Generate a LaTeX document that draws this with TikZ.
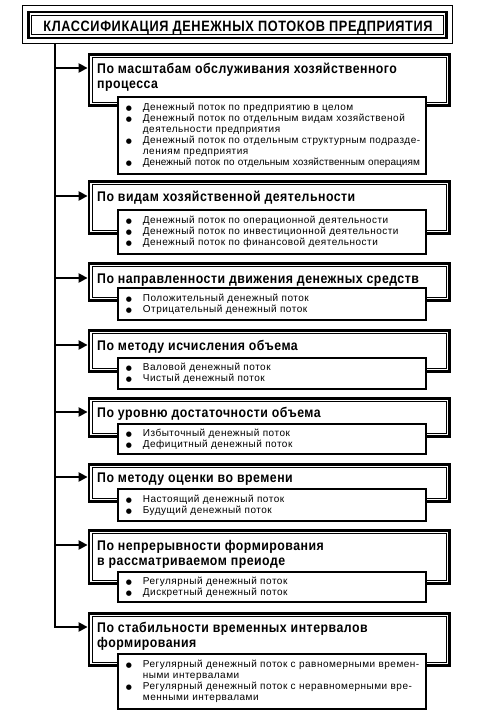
\documentclass[tikz,border=0pt]{standalone}
\usepackage{fontspec}
\setmainfont{Liberation Sans}
\newfontfamily\ttlfont{Liberation Sans}[FakeStretch=0.85,LetterSpace=4]
\newfontfamily\hdrfont{Liberation Sans}[FakeStretch=0.88,LetterSpace=3.5]
\newfontfamily\itmfont{Liberation Sans}[LetterSpace=5]
\newfontfamily\itmtight{Liberation Sans}[LetterSpace=0.5]
\newfontfamily\symfont{DejaVu Sans}
\usetikzlibrary{arrows.meta}
\newlength\itmw \setlength\itmw{275pt}
\newcommand\bulsym{{\symfont\fontsize{7}{7}\selectfont ●}}
\newcommand\itmA[1]{\noindent\makebox[17pt][l]{\bulsym}\hbox to \itmw{#1\hfil}\par}
\newcommand\itmJ[1]{\noindent\makebox[17pt][l]{\bulsym}\hbox to \itmw{#1}\par}
\newcommand\itmC[1]{\noindent\hspace*{17pt}\hbox to \itmw{#1\hfil}\par}
\tikzset{
  trunk/.style={line width=2.2pt,line cap=rect},
  arr/.style={line width=2.2pt,-{Triangle[length=9pt,width=9pt]}},
  catbox/.style={draw,line width=2.8pt,fill=white,anchor=north west,inner sep=0pt,minimum width=360.6pt},
  inframe/.style={line width=0.9pt},
  subbox/.style={draw,line width=1.8pt,fill=white,anchor=north west,text width=292pt,
    inner xsep=8pt,inner ysep=0pt,align=left,font=\itmfont\fontsize{10}{11}\selectfont},
  hdr/.style={anchor=base west,inner sep=0pt,align=left,font=\hdrfont\bfseries\fontsize{14}{15}\selectfont},
}
% #1 id, #2 top, #3 bottom, #4 arrow y, #5 header, #6 sub top, #7 sub bottom, #8 items, #9 extra header lines
\newcommand\mkcat[9]{%
  \node[catbox,minimum height={(#3-#2-2.8)*1pt}] (c#1) at (87.6,#2) {};
  \draw[inframe] ([shift={(4.5,4.5)}]c#1.north west) rectangle ([shift={(-4.5,-4.5)}]c#1.south east);
  \node[hdr] (h#1) at (97,{#4+5+15*#9}) {#5};
  \node[subbox,minimum height={(#7-#6-1.8)*1pt}] (s#1) at (117,#6) {#8};
  \coordinate (t#1) at (55,#4);
}
\begin{document}
\begin{tikzpicture}[x=1pt,y=-1pt]
\useasboundingbox (0,0) rectangle (497,712);
\fill[white] (0,0) rectangle (497,712);

\node[draw,line width=0.9pt,anchor=north west,inner sep=0pt,minimum width=430pt,minimum height=38pt] (tframe) at (22,5) {};
\node[draw,line width=2.8pt,inner sep=0pt,minimum width=418pt,minimum height=26pt] (tbox) at (237.5,25) {};
\draw[inframe] ([shift={(4.5,4.5)}]tbox.north west) rectangle ([shift={(-4.5,-4.5)}]tbox.south east);
\node[anchor=base,inner sep=0pt,font=\ttlfont\bfseries\fontsize{15}{15}\selectfont] (ttext) at (238,31.5)
  {КЛАССИФИКАЦИЯ ДЕНЕЖНЫХ ПОТОКОВ ПРЕДПРИЯТИЯ};

\mkcat{1}{53}{107}{68}{По масштабам обслуживания хозяйственного\\процесса}{96}{175}{%
  \itmA{Денежный поток по предприятию в целом}
  \itmJ{Денежный поток по отдельным видам хозяйственой}
  \itmC{деятельности предприятия}
  \itmJ{Денежный поток по отдельным структурным подразде-}
  \itmC{лениям предприятия}
  \itmA{\itmtight Денежный поток по отдельным хозяйственным операциям}}{1}
\mkcat{2}{180}{235}{196}{По видам хозяйственной деятельности}{209}{255}{%
  \itmA{Денежный поток по операционной деятельности}
  \itmA{Денежный поток по инвестиционной деятельности}
  \itmA{Денежный поток по финансовой деятельности}}{0}
\mkcat{3}{262}{302}{278}{По направленности движения денежных средств}{287}{321}{%
  \itmA{Положительный денежный поток}
  \itmA{Отрицательный денежный поток}}{0}
\mkcat{4}{329}{373}{345}{По методу исчисления объема}{357}{390}{%
  \itmA{Валовой денежный поток}
  \itmA{Чистый денежный поток}}{0}
\mkcat{5}{397}{438}{412}{По уровню достаточности объема}{423}{455}{%
  \itmA{Избыточный денежный поток}
  \itmA{Дефицитный денежный поток}}{0}
\mkcat{6}{463}{503}{477}{По методу оценки во времени}{488}{522}{%
  \itmA{Настоящий денежный поток}
  \itmA{Будущий денежный поток}}{0}
\mkcat{7}{529}{585}{545}{По непрерывности формирования\\в рассматриваемом преиоде}{571}{603}{%
  \itmA{Регулярный денежный поток}
  \itmA{Дискретный денежный поток}}{1}
\mkcat{8}{612}{667}{627}{По стабильности временных интервалов\\формирования}{653}{710}{%
  \itmJ{Регулярный денежный поток с равномерными времен-}
  \itmC{ными интервалами}
  \itmJ{Регулярный денежный поток с неравномерными вре-}
  \itmC{менными интервалами}}{1}

\draw[trunk] (tframe.south -| t1) -- (t8);
\foreach \i in {1,...,8} {\draw[arr] (t\i) -- (t\i -| c\i.west);}
\end{tikzpicture}
\end{document}
